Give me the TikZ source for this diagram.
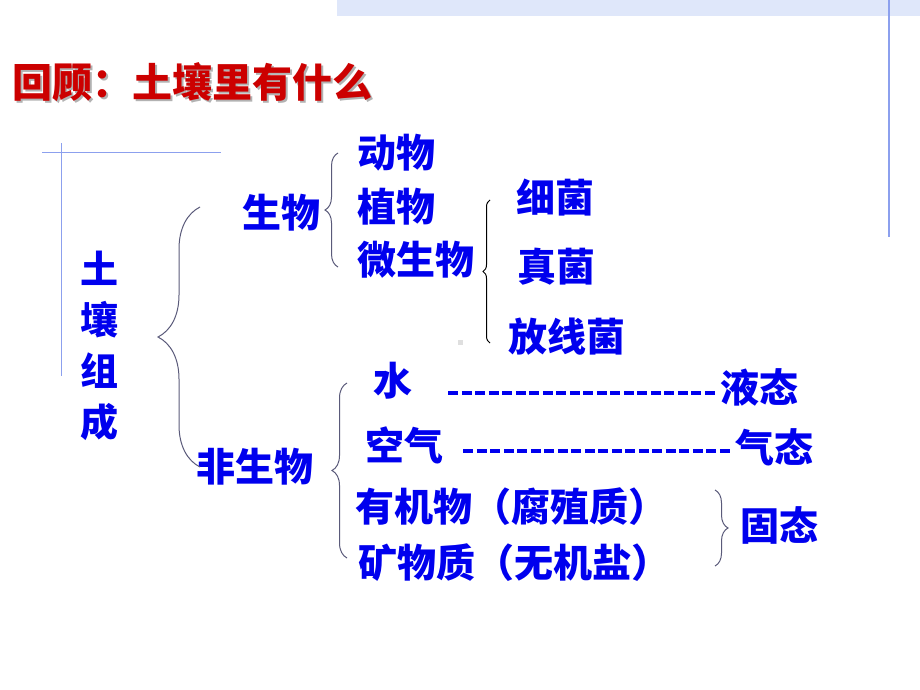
\documentclass[tikz,border=0pt]{standalone}
\usepackage{fontspec}
\newfontfamily\cjk{Noto Sans CJK SC}
\usetikzlibrary{decorations.pathreplacing}
\definecolor{txtblue}{HTML}{0000EE}
\definecolor{ttlred}{HTML}{CC0000}
\definecolor{bandblue}{HTML}{DFE7FA}
\definecolor{lineblue}{HTML}{8CA0EE}
\definecolor{brcgray}{HTML}{5A5A7A}
\begin{document}
\begin{tikzpicture} [
   x=1pt, y=-1pt,
   t/.style={anchor=west, inner sep=0pt, text=txtblue,
             font=\cjk\bfseries\fontsize{39}{44}\selectfont},
   ttl/.style={anchor=west, inner sep=0pt,
               font=\cjk\bfseries\fontsize{40}{46}\selectfont},
   brc/.style={draw=brcgray, line width=1pt, decorate,
               decoration={brace, amplitude=#1}},
   dashln/.style={draw=txtblue, line width=4pt, dash pattern=on 10pt off 3.5pt}
]
   \useasboundingbox (0,0) rectangle (920,690);
   % frame
   \fill[bandblue] (337,0) rectangle (920,16);
   \draw[lineblue, line width=1.5pt] (889,0) -- (889,237);
   \draw[lineblue, line width=0.8pt] (42,152) -- (221,152);
   \draw[lineblue, line width=0.8pt] (61,143) -- (61,376);
   \fill[gray!25] (458,340) rectangle (463,345);
   % title
   \node (title) [ttl, text=ttlred] at (12,83)
      {\makebox[0pt][l]{\hspace{2pt}\raisebox{-2pt}{\color{gray!60}回顾：土壤里有什么}}回顾：土壤里有什么};
   % soil
   \node (soil) [inner sep=0pt, text=txtblue, align=center,
      font=\cjk\bfseries\fontsize{38}{51}\selectfont] at (99,346) {土\\壤\\组\\成};
   \node (sw) [t] at (242,213) {生物};
   \node (fsw) [t] at (196,467) {非生物};
   \draw[brc=42] (200,467) -- (200,207);
   % living
   \node (dw) [t] at (357,153) {动物};
   \node (zw) [t] at (357,207) {植物};
   \node (wsw) [t] at (357,260) {微生物};
   \draw[brc=13] (338,267) -- (338,153);
   \node (xj) [t] at (516,198) {细菌};
   \node (zj) [t] at (517,267) {真菌};
   \node (fxj) [t] at (508,337) {放线菌};
   \draw[brc=7, draw=black] (490,343) -- (490,200);
   % non-living
   \node (shui) [t] at (373,381) {水};
   \node (yt) [t] at (720,387) {液态};
   \node (kq) [t] at (365,445) {空气};
   \node (qt) [t] at (735,447) {气态};
   \node (yjw) [t] at (355,507) {有机物（腐殖质）};
   \node (kwz) [t] at (358,563) {矿物质（无机盐）};
   \node (gt) [t] at (740,525) {固态};
   \draw[brc=15] (347,558) -- (347,383);
   \draw[brc=13] (715,490) -- (715,566);
   \draw[dashln] ([shift={(36,12)}]shui.east) -- ([shift={(-2,6)}]yt.west);
   \draw[dashln] ([shift={(20,6)}]kq.east) -- ([shift={(-2,4)}]qt.west);
\end{tikzpicture}
\end{document}
